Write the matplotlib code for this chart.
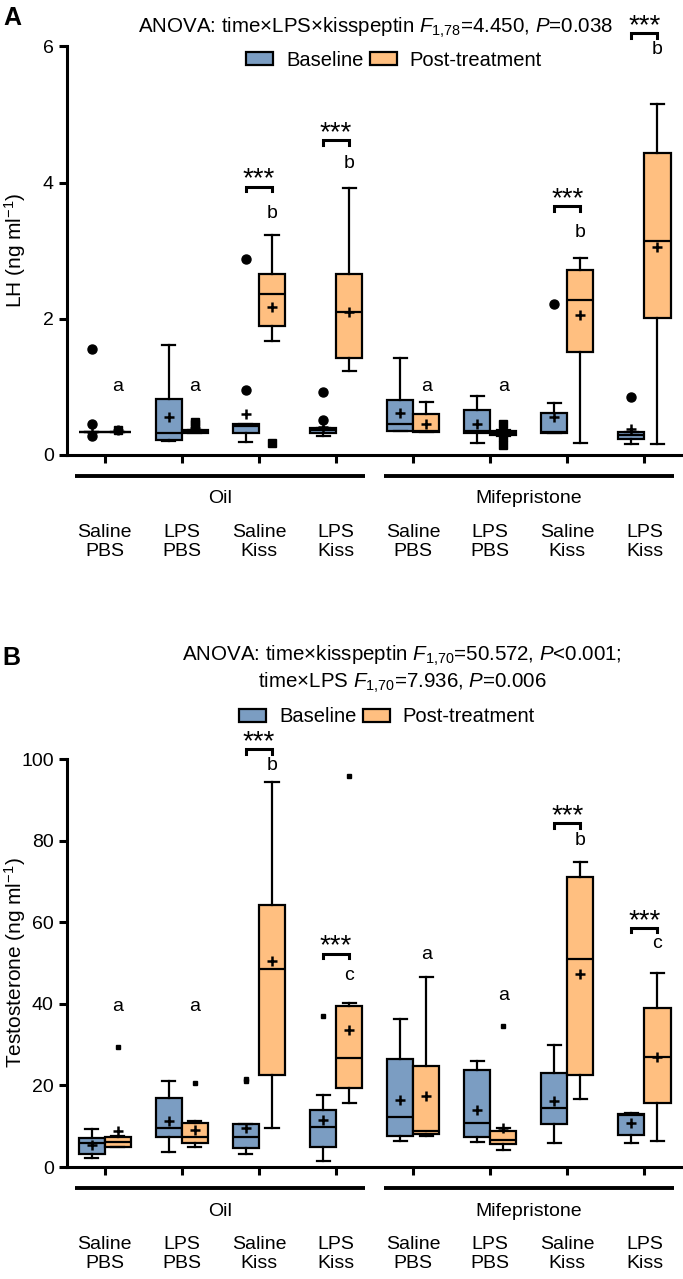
import matplotlib.pyplot as plt
import matplotlib.transforms as mtransforms
from matplotlib.patches import Patch

plt.rcParams['font.family'] = ['Liberation Sans', 'DejaVu Sans']
plt.rcParams['mathtext.fontset'] = 'custom'
plt.rcParams['mathtext.rm'] = 'Liberation Sans'
plt.rcParams['mathtext.it'] = 'Liberation Sans:italic'
plt.rcParams['mathtext.bf'] = 'Liberation Sans:bold'

# groups (same in both panels)
groups = ['Saline\nPBS', 'LPS\nPBS', 'Saline\nKiss', 'LPS\nKiss'] * 2
pretreat = ['Oil', 'Mifepristone']

# ---- Panel A: LH (ng/ml) ----
lh_base_q1 = [0.34, 0.22, 0.33, 0.32, 0.35, 0.32, 0.32, 0.24]
lh_base_med = [0.34, 0.33, 0.42, 0.36, 0.46, 0.35, 0.34, 0.30]
lh_base_q3 = [0.34, 0.82, 0.45, 0.39, 0.81, 0.66, 0.61, 0.34]
lh_base_lo = [0.34, 0.20, 0.19, 0.28, 0.35, 0.18, 0.32, 0.16]
lh_base_hi = [0.34, 1.62, 0.45, 0.40, 1.42, 0.87, 0.76, 0.34]
lh_base_mean = [0.34, 0.56, 0.60, 0.41, 0.62, 0.45, 0.56, 0.38]
lh_base_out = [[1.56, 0.46, 0.28], [], [2.88, 0.95], [0.92, 0.52], [], [], [2.21], [0.85]]

lh_post_q1 = [0.34, 0.33, 1.90, 1.43, 0.34, 0.30, 1.51, 2.01]
lh_post_med = [0.34, 0.34, 2.36, 2.10, 0.35, 0.33, 2.28, 3.14]
lh_post_q3 = [0.34, 0.36, 2.66, 2.66, 0.60, 0.35, 2.71, 4.44]
lh_post_lo = [0.34, 0.33, 1.67, 1.23, 0.34, 0.28, 0.18, 0.16]
lh_post_hi = [0.34, 0.36, 3.23, 3.92, 0.78, 0.36, 2.90, 5.16]
lh_post_mean = [0.36, 0.40, 2.18, 2.10, 0.45, 0.33, 2.05, 3.05]
lh_post_out = [[0.36], [0.46, 0.49], [0.18], [], [], [0.45, 0.26, 0.15], [], []]

lh_sig_groups = [2, 3, 6, 7]
lh_sig_height = [3.94, 4.62, 3.65, 6.19]
lh_letters = ['a', 'a', 'b', 'b', 'a', 'a', 'b', 'b']
lh_letter_y = [1.0, 1.0, 3.55, 4.28, 1.0, 1.0, 3.27, 5.95]

# ---- Panel B: testosterone (ng/ml) ----
t_base_q1 = [3.3, 7.4, 4.7, 4.9, 7.6, 7.4, 10.5, 7.8]
t_base_med = [6.0, 9.6, 7.3, 9.8, 12.2, 10.9, 14.4, 12.7]
t_base_q3 = [7.2, 16.8, 10.6, 13.9, 26.4, 23.8, 23.1, 12.9]
t_base_lo = [2.3, 3.7, 3.3, 1.4, 6.4, 6.2, 5.8, 6.0]
t_base_hi = [9.3, 21.1, 10.6, 17.6, 36.2, 26.0, 29.9, 13.2]
t_base_mean = [5.4, 11.3, 9.5, 11.5, 16.4, 14.0, 16.2, 10.7]
t_base_out = [[], [], [21.1, 21.5], [37.1], [], [], [], []]

t_post_q1 = [5.0, 6.0, 22.5, 19.3, 8.1, 5.6, 22.5, 15.8]
t_post_med = [6.2, 7.3, 48.5, 26.6, 8.9, 6.6, 50.9, 27.0]
t_post_q3 = [7.4, 10.9, 64.3, 39.5, 24.7, 8.9, 71.0, 38.9]
t_post_lo = [4.8, 5.0, 9.6, 15.7, 7.6, 4.2, 16.6, 6.4]
t_post_hi = [7.6, 11.3, 94.4, 40.1, 46.6, 9.6, 74.7, 47.6]
t_post_mean = [8.8, 9.1, 50.5, 33.6, 17.4, 9.6, 47.2, 27.0]
t_post_out = [[29.3], [20.6], [], [95.8], [], [34.6], [], []]

t_sig_groups = [2, 3, 6, 7]
t_sig_height = [102.4, 52.3, 84.3, 58.6]
t_letters = ['a', 'a', 'b', 'c', 'a', 'a', 'b', 'c']
t_letter_y = [39.3, 39.3, 98.3, 47.0, 52.0, 42.0, 80.1, 54.8]

blue = '#7b9dc2'
orange = '#ffbf80'
half = 0.169
W, H = 683, 1279


def make_stats(q1, med, q3, lo, hi, mean, out):
    return [dict(q1=a, med=b, q3=c, whislo=d, whishi=e, mean=f, fliers=g)
            for a, b, c, d, e, f, g in zip(q1, med, q3, lo, hi, mean, out)]


def draw_boxes(ax, stats, offset, color, marker, msize):
    pos = [i + offset for i in range(len(stats))]
    ax.bxp(stats, positions=pos, widths=2 * half, patch_artist=True, showmeans=True,
           manage_ticks=False,
           boxprops=dict(facecolor=color, edgecolor='k', linewidth=1.6),
           medianprops=dict(color='k', linewidth=1.6),
           whiskerprops=dict(color='k', linewidth=1.6),
           capprops=dict(color='k', linewidth=1.6),
           meanprops=dict(marker='+', markeredgecolor='k', markersize=7, markeredgewidth=1.8),
           flierprops=dict(marker=marker, markerfacecolor='k', markeredgecolor='k',
                           markersize=msize, linestyle='none'))


def style_axis(ax, ymax, yticks, ylabel):
    ax.set_xlim(-0.49, 7.5)
    ax.set_ylim(0, ymax)
    ax.set_yticks(yticks)
    ax.set_xticks(range(8))
    ax.set_xticklabels([])
    for s in ['top', 'right']:
        ax.spines[s].set_visible(False)
    for s in ['left', 'bottom']:
        ax.spines[s].set_linewidth(2.2)
    ax.tick_params(axis='both', direction='out', length=6, width=2.2, labelsize=14)
    ax.set_ylabel(ylabel, fontsize=15, va='center')
    ax.yaxis.set_label_coords(-0.084, 0.5)

    xtrans = ax.get_xaxis_transform()
    for i, lab in enumerate(groups):
        ax.annotate(lab, (i, 0), xycoords=xtrans, xytext=(0, -87), textcoords='offset pixels',
                    ha='center', va='center', fontsize=14, linespacing=1.15,
                    annotation_clip=False)
    line_trans = mtransforms.offset_copy(xtrans, fig=ax.figure, x=0, y=-21, units='dots')
    for k, name in enumerate(pretreat):
        c = 4 * k + 1.5
        ax.plot([c - 1.88, c + 1.88], [0, 0], color='k', lw=2.8, transform=line_trans,
                clip_on=False, solid_capstyle='butt')
        ax.annotate(name, (c, 0), xycoords=xtrans, xytext=(0, -44), textcoords='offset pixels',
                    ha='center', va='center', fontsize=14, annotation_clip=False)


def annotate_sig(ax, sig_groups, sig_height, letters, letter_y, ymax):
    drop = 0.011 * ymax
    for i, h in zip(sig_groups, sig_height):
        ax.plot([i - half, i - half, i + half, i + half], [h - drop, h, h, h - drop],
                color='k', lw=2.2, clip_on=False, solid_joinstyle='miter')
        ax.annotate('***', (i, h), xytext=(0, 0), textcoords='offset pixels',
                    ha='center', va='baseline', fontsize=20, annotation_clip=False)
    for i, (lab, y) in enumerate(zip(letters, letter_y)):
        ax.text(i + half, y, lab, ha='center', va='center', fontsize=14, clip_on=False)


fig = plt.figure(figsize=(W / 100, H / 100), dpi=100)

axA = fig.add_axes([67 / W, 1 - 455 / H, 616 / W, 408.6 / H])
draw_boxes(axA, make_stats(lh_base_q1, lh_base_med, lh_base_q3, lh_base_lo, lh_base_hi,
                           lh_base_mean, lh_base_out), -half, blue, 'o', 6.5)
draw_boxes(axA, make_stats(lh_post_q1, lh_post_med, lh_post_q3, lh_post_lo, lh_post_hi,
                           lh_post_mean, lh_post_out), half, orange, 's', 6)
style_axis(axA, 6, [0, 2, 4, 6], 'LH (ng ml$^{-1}$)')
annotate_sig(axA, lh_sig_groups, lh_sig_height, lh_letters, lh_letter_y, 6)

axB = fig.add_axes([67 / W, 1 - 1167 / H, 616 / W, 408 / H])
draw_boxes(axB, make_stats(t_base_q1, t_base_med, t_base_q3, t_base_lo, t_base_hi,
                           t_base_mean, t_base_out), -half, blue, 's', 3)
draw_boxes(axB, make_stats(t_post_q1, t_post_med, t_post_q3, t_post_lo, t_post_hi,
                           t_post_mean, t_post_out), half, orange, 's', 3)
style_axis(axB, 100, [0, 20, 40, 60, 80, 100], 'Testosterone (ng ml$^{-1}$)')
annotate_sig(axB, t_sig_groups, t_sig_height, t_letters, t_letter_y, 100)

# panel letters, titles and legends
fig.text(3 / W, 1 - 25 / H, 'A', fontsize=18, fontweight='bold', va='baseline')
fig.text(2 / W, 1 - 665 / H, 'B', fontsize=18, fontweight='bold', va='baseline')

fig.text(376 / W, 1 - 33 / H, 'ANOVA: time×LPS×kisspeptin $F_{1{,}78}$=4.450, $P$=0.038',
         ha='center', va='baseline', fontsize=14.8)
fig.text(402 / W, 1 - 661 / H, 'ANOVA: time×kisspeptin $F_{1{,}70}$=50.572, $P$<0.001;',
         ha='center', va='baseline', fontsize=14.8)
fig.text(402 / W, 1 - 688 / H, 'time×LPS $F_{1{,}70}$=7.936, $P$=0.006',
         ha='center', va='baseline', fontsize=14.8)

handles = [Patch(facecolor=blue, edgecolor='k', linewidth=1.6, label='Baseline'),
           Patch(facecolor=orange, edgecolor='k', linewidth=1.6, label='Post-treatment')]
for cx, cy in [(394, 60), (387, 717)]:
    fig.legend(handles=handles, loc='center', bbox_to_anchor=(cx / W, 1 - cy / H), ncol=2,
               frameon=False, fontsize=14.5, handlelength=1.35, handleheight=0.65,
               handletextpad=0.65, columnspacing=0.3, borderpad=0, borderaxespad=0)

fig.savefig('out.png', dpi=100)
